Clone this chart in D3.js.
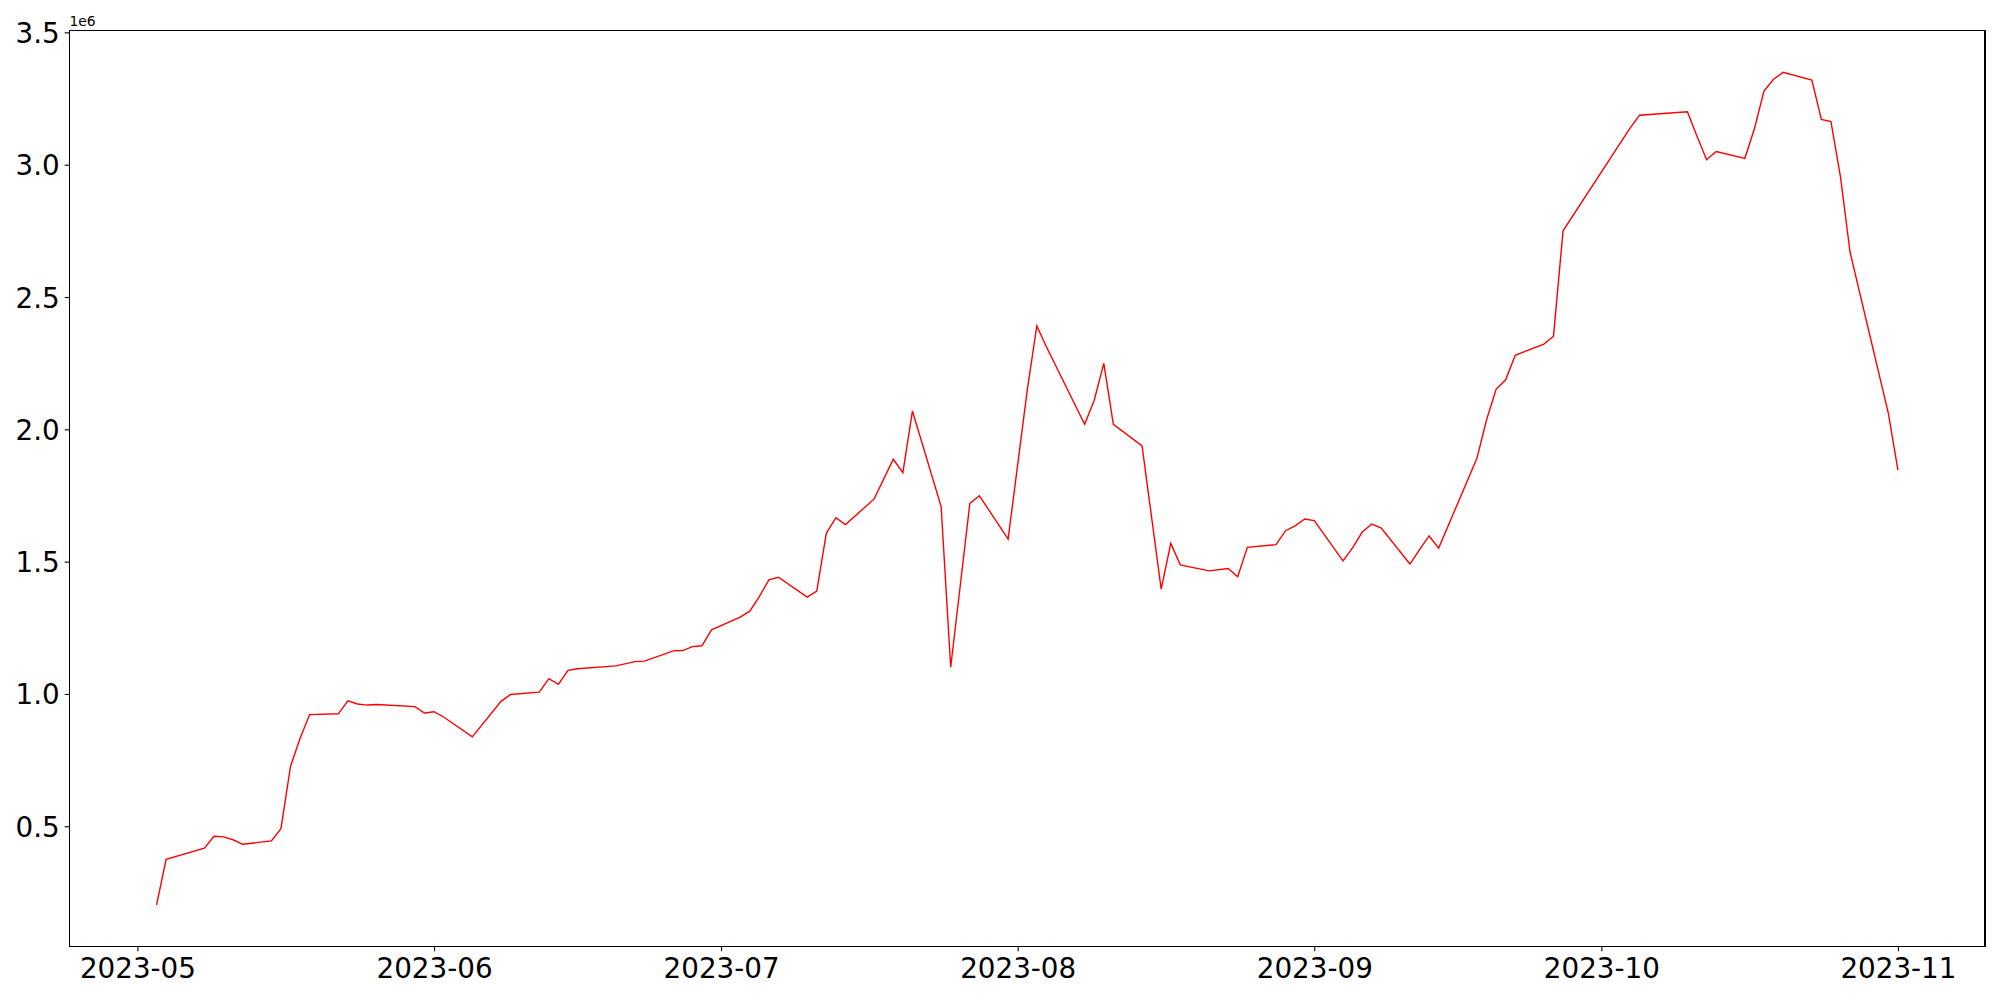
<!DOCTYPE html>
<html>
<head>
<meta charset="utf-8">
<script src="https://cdn.jsdelivr.net/npm/d3@7"></script>
<style>
    body { margin: 0; background: #ffffff; }
    svg { display: block; font-family: "DejaVu Sans", sans-serif; }
</style>
</head>
<body>
<svg id="chart"></svg>
<script>
// trading days
const dates = [
    "2023-05-03", "2023-05-04", "2023-05-08", "2023-05-09", "2023-05-10", "2023-05-11", "2023-05-12",
    "2023-05-15", "2023-05-16", "2023-05-17", "2023-05-18", "2023-05-19", "2023-05-22", "2023-05-23",
    "2023-05-24", "2023-05-25", "2023-05-26", "2023-05-30", "2023-05-31", "2023-06-01", "2023-06-02",
    "2023-06-05", "2023-06-08", "2023-06-09", "2023-06-12", "2023-06-13", "2023-06-14", "2023-06-15",
    "2023-06-16", "2023-06-20", "2023-06-22", "2023-06-23", "2023-06-26", "2023-06-27", "2023-06-28",
    "2023-06-29", "2023-06-30", "2023-07-03", "2023-07-04", "2023-07-05", "2023-07-06", "2023-07-07",
    "2023-07-10", "2023-07-11", "2023-07-12", "2023-07-13", "2023-07-14", "2023-07-17", "2023-07-19",
    "2023-07-20", "2023-07-21", "2023-07-24", "2023-07-25", "2023-07-27", "2023-07-28", "2023-07-31",
    "2023-08-02", "2023-08-03", "2023-08-04", "2023-08-08", "2023-08-09", "2023-08-10", "2023-08-11",
    "2023-08-14", "2023-08-16", "2023-08-17", "2023-08-18", "2023-08-21", "2023-08-23", "2023-08-24",
    "2023-08-25", "2023-08-28", "2023-08-29", "2023-08-30", "2023-08-31", "2023-09-01", "2023-09-04",
    "2023-09-05", "2023-09-06", "2023-09-07", "2023-09-08", "2023-09-11", "2023-09-12", "2023-09-13",
    "2023-09-14", "2023-09-18", "2023-09-19", "2023-09-20", "2023-09-21", "2023-09-22", "2023-09-25",
    "2023-09-26", "2023-09-27", "2023-10-04", "2023-10-05", "2023-10-10", "2023-10-11", "2023-10-12",
    "2023-10-13", "2023-10-16", "2023-10-17", "2023-10-18", "2023-10-19", "2023-10-20", "2023-10-23",
    "2023-10-24", "2023-10-25", "2023-10-26", "2023-10-27", "2023-10-31", "2023-11-01"
];

const values = [
    203000, 375000, 417000, 462000, 460000, 449000, 432000,
    445000, 491000, 726000, 833000, 922000, 925000, 974000,
    962000, 958000, 960000, 952000, 928000, 933000, 913000,
    838000, 972000, 998000, 1007000, 1058000, 1036000, 1089000,
    1095000, 1106000, 1122000, 1124000, 1163000, 1164000, 1179000,
    1182000, 1242000, 1290000, 1313000, 1368000, 1431000, 1441000,
    1366000, 1389000, 1607000, 1666000, 1640000, 1737000, 1887000,
    1836000, 2069000, 1708000, 1101000, 1720000, 1749000, 1585000,
    2148000, 2391000, 2312000, 2019000, 2110000, 2249000, 2019000,
    1937000, 1396000, 1569000, 1488000, 1465000, 1474000, 1443000,
    1554000, 1564000, 1617000, 1635000, 1661000, 1655000, 1503000,
    1552000, 1611000, 1642000, 1627000, 1491000, 1545000, 1597000,
    1551000, 1891000, 2035000, 2151000, 2187000, 2280000, 2322000,
    2352000, 2750000, 3138000, 3187000, 3200000, 3107000, 3019000,
    3050000, 3024000, 3136000, 3278000, 3323000, 3349000, 3320000,
    3171000, 3163000, 2953000, 2669000, 2060000, 1846000
];

const xTicks = ["2023-05-01", "2023-06-01", "2023-07-01", "2023-08-01", "2023-09-01", "2023-10-01", "2023-11-01"];
const yTicks = [500000, 1000000, 1500000, 2000000, 2500000, 3000000, 3500000];

class LineChart {
    margin = {
        top: 30.7, right: 15, bottom: 53.5, left: 69.5
    }

    constructor(svg, width = 2000, height = 1000) {
        this.svg = svg;
        this.width = width - this.margin.left - this.margin.right;
        this.height = height - this.margin.top - this.margin.bottom;
    }

    initialize() {
        this.svg = d3.select(this.svg)
            .attr("width", this.width + this.margin.left + this.margin.right)
            .attr("height", this.height + this.margin.top + this.margin.bottom);

        this.svg.append("rect")
            .attr("width", "100%").attr("height", "100%")
            .attr("fill", "#ffffff");

        this.container = this.svg.append("g")
            .attr("transform", `translate(${this.margin.left}, ${this.margin.top})`);
        this.xAxis = this.svg.append("g");
        this.yAxis = this.svg.append("g");

        this.xScale = d3.scaleTime();
        this.yScale = d3.scaleLinear();
    }

    update(dates, values) {
        const parse = d3.timeParse("%Y-%m-%d");
        const data = dates.map((d, i) => ({ date: parse(d), value: values[i] }));

        // matplotlib style 5% margins
        const [x0, x1] = d3.extent(data, d => d.date);
        const xPad = (x1 - x0) * 0.05;
        const [y0, y1] = d3.extent(data, d => d.value);
        const yPad = (y1 - y0) * 0.05;

        this.xScale.domain([new Date(+x0 - xPad), new Date(+x1 + xPad)]).range([0, this.width]);
        this.yScale.domain([y0 - yPad, y1 + yPad]).range([this.height, 0]);

        const line = d3.line()
            .x(d => this.xScale(d.date))
            .y(d => this.yScale(d.value));

        this.container.append("path")
            .datum(data)
            .attr("fill", "none")
            .attr("stroke", "#ff0000")
            .attr("stroke-width", 1.4)
            .attr("stroke-linejoin", "miter")
            .attr("d", line);

        const tick = 4.86;

        this.xAxis
            .attr("transform", `translate(${this.margin.left}, ${this.margin.top + this.height})`)
            .call(d3.axisBottom(this.xScale)
                .tickValues(xTicks.map(parse))
                .tickFormat(d3.timeFormat("%Y-%m"))
                .tickSize(tick)
                .tickPadding(7)
                .tickSizeOuter(0));

        this.yAxis
            .attr("transform", `translate(${this.margin.left}, ${this.margin.top})`)
            .call(d3.axisLeft(this.yScale)
                .tickValues(yTicks)
                .tickFormat(d => (d / 1e6).toFixed(1))
                .tickSize(tick)
                .tickPadding(4.86)
                .tickSizeOuter(0));

        [this.xAxis, this.yAxis].forEach(ax => {
            ax.select(".domain").remove();
            ax.selectAll(".tick line").attr("stroke", "#000").attr("stroke-width", 1.1);
            ax.selectAll(".tick text")
                .attr("fill", "#000")
                .style("font-family", "'DejaVu Sans', sans-serif")
                .style("font-size", "27.78px");
        });
        this.yAxis.selectAll(".tick text").attr("dy", "0.36em");

        // frame (four spines)
        this.container.append("rect")
            .attr("width", this.width)
            .attr("height", this.height)
            .attr("fill", "none")
            .attr("stroke", "#000")
            .attr("stroke-width", 1.1)
            .attr("shape-rendering", "crispEdges");

        // offset text
        this.svg.append("text")
            .attr("x", this.margin.left)
            .attr("y", this.margin.top - 4.8)
            .style("font-size", "13.89px")
            .attr("fill", "#000")
            .text("1e6");
    }
}

const chart = new LineChart("#chart");
chart.initialize();
chart.update(dates, values);
</script>
</body>
</html>
